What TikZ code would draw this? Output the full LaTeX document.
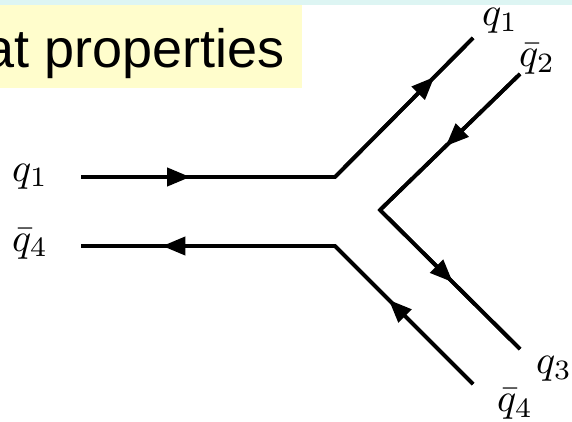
\documentclass[tikz,border=0pt]{standalone}
\usepackage{graphicx}
\usepackage{fontspec}
\newfontfamily\slidefont{Liberation Sans}
\usetikzlibrary{arrows.meta,decorations.markings}
\definecolor{bandcyan}{HTML}{DDF5F3}
\definecolor{boxyellow}{HTML}{FFFDCC}
\newcommand{\biglbl}[1]{\scalebox{4.0}{$#1$}}
\tikzset{
  quark/.style={line width=3.8pt},
  lbl/.style={inner sep=0pt, anchor=base west},
  tipat/.style={postaction={decorate}, decoration={markings,
      mark=at position #1 with {\arrow{Triangle[length=23pt,width=18pt]}}}},
}
\begin{document}
\begin{tikzpicture}[x=1pt,y=-1pt]
\useasboundingbox (0,0) rectangle (572,422);
\clip (0,0) rectangle (572,422);
\fill[bandcyan] (0,0) rectangle (572,5);
\fill[boxyellow] (0,5) rectangle (302,88);
\node (title) [anchor=base east, inner sep=0pt, font=\slidefont\fontsize{54}{60}\selectfont] at (285,68) {at properties};

\coordinate (a1) at (81,177);
\coordinate (v1) at (335,177);
\coordinate (b1) at (473,38);
\coordinate (c2) at (520,74);
\coordinate (v2) at (380,210);
\coordinate (d2) at (520,349);
\coordinate (e4) at (81,246);
\coordinate (v3) at (335,246);
\coordinate (f4) at (473,384);

\draw[quark] (a1) -- (v1) -- (b1);
\draw[quark, tipat=0.43] (a1) -- (v1);
\draw[quark, tipat=0.72] (v1) -- (b1);

\draw[quark] (c2) -- (v2) -- (d2);
\draw[quark, tipat=0.53] (c2) -- (v2);
\draw[quark, tipat=0.52] (v2) -- (d2);

\draw[quark] (e4) -- (v3) -- (f4);
\draw[quark, tipat=0.68] (v3) -- (e4);
\draw[quark, tipat=0.61] (f4) -- (v3);

\node (lq1) [lbl] at (12,181) {\biglbl{q_1}};
\node (lq4) [lbl] at (12,251) {\biglbl{\bar q_4}};
\node (rq1) [lbl] at (482,26) {\biglbl{q_1}};
\node (rq2) [lbl] at (519,67) {\biglbl{\bar q_2}};
\node (rq3) [lbl] at (536,373) {\biglbl{q_3}};
\node (rq4) [lbl] at (497,411) {\biglbl{\bar q_4}};
\end{tikzpicture}
\end{document}
